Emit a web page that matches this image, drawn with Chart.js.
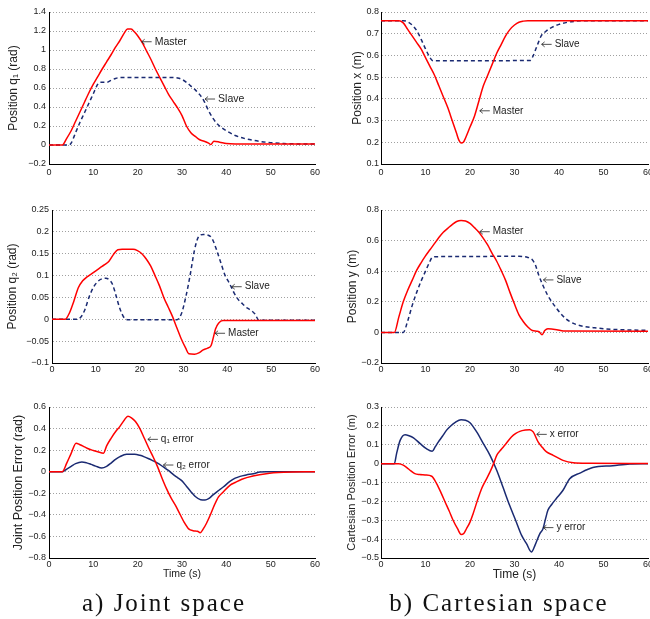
<!DOCTYPE html>
<html>
<head>
<meta charset="utf-8">
<script src="https://cdn.jsdelivr.net/npm/chart.js@4.4.0/dist/chart.umd.min.js"></script>
<style>
html, body { margin: 0; padding: 0; width: 650px; height: 619px; overflow: hidden; background: #fff; }
canvas { position: absolute; }
.caption { position: absolute; width: 240px; text-align: center; font-family: "Liberation Serif", serif; font-size: 25px; line-height: 25px; letter-spacing: 2px; color: #111; }
</style>
</head>
<body>
<canvas id="q1" style="left:0;top:0" width="330" height="190"></canvas>
<canvas id="px" style="left:330px;top:0" width="340" height="190"></canvas>
<canvas id="q2" style="left:0;top:195px" width="330" height="190"></canvas>
<canvas id="py" style="left:330px;top:195px" width="340" height="190"></canvas>
<canvas id="jerr" style="left:0;top:390px" width="330" height="200"></canvas>
<canvas id="cerr" style="left:330px;top:390px" width="340" height="200"></canvas>
<div class="caption" style="left:44px;top:590px">a) Joint space</div>
<div class="caption" style="left:379px;top:590px">b) Cartesian space</div>
<script>
// Datos (tiempo en s)

// q1 (rad)
const q1MasterT = [0, 3, 4, 5, 6, 7, 8, 9, 10, 11, 12, 13, 14, 15, 16, 17, 17.7, 18.5, 19.3, 20, 21, 22, 23, 24, 25, 26, 27, 28, 29, 30, 31, 32, 33, 34, 35, 36, 36.5, 37.2, 38.5, 40, 42, 60];
const q1MasterY = [0, 0, 0.07, 0.15, 0.25, 0.35, 0.45, 0.55, 0.64, 0.72, 0.80, 0.875, 0.95, 1.03, 1.10, 1.18, 1.22, 1.22, 1.19, 1.15, 1.08, 0.99, 0.90, 0.80, 0.71, 0.62, 0.53, 0.46, 0.39, 0.31, 0.20, 0.13, 0.09, 0.055, 0.04, 0.02, 0.005, 0.04, 0.03, 0.015, 0.01, 0.01];
const q1SlaveT = [0, 4.5, 5, 6, 7, 8, 9, 10, 11, 11.5, 13, 14, 15, 16, 28, 29, 30, 31, 32, 33, 34, 35, 36, 37, 38, 39, 40, 42, 44, 46, 48, 50, 53, 60];
const q1SlaveY = [0, 0, 0.02, 0.13, 0.24, 0.34, 0.44, 0.54, 0.64, 0.66, 0.66, 0.68, 0.70, 0.71, 0.71, 0.705, 0.69, 0.66, 0.62, 0.58, 0.53, 0.46, 0.36, 0.28, 0.22, 0.18, 0.15, 0.10, 0.07, 0.05, 0.035, 0.025, 0.015, 0.01];

// x (m)
const xMasterT = [0, 4, 5, 6, 7, 8, 9, 10, 11, 12, 13, 14, 15, 16, 17, 17.5, 18, 18.5, 19, 20, 21, 22, 23, 24, 25, 26, 27, 28, 29, 30, 31, 32, 33, 60];
const xMasterY = [0.76, 0.76, 0.75, 0.72, 0.69, 0.66, 0.63, 0.59, 0.55, 0.51, 0.46, 0.41, 0.36, 0.30, 0.24, 0.21, 0.197, 0.20, 0.22, 0.27, 0.32, 0.39, 0.46, 0.51, 0.56, 0.61, 0.65, 0.69, 0.72, 0.74, 0.753, 0.758, 0.76, 0.76];
const xSlaveT = [0, 5, 6, 7, 8, 9, 10, 11, 11.5, 12, 33.5, 34, 35, 36, 37, 38, 40, 42, 44, 46, 60];
const xSlaveY = [0.76, 0.76, 0.755, 0.74, 0.715, 0.675, 0.63, 0.59, 0.577, 0.575, 0.577, 0.59, 0.64, 0.69, 0.71, 0.725, 0.743, 0.753, 0.758, 0.76, 0.76];

// q2 (rad)
const q2MasterT = [0, 3, 4, 5, 6, 7, 8, 9, 10, 11, 12, 13, 14, 15, 16, 18.5, 19.5, 20.5, 21.5, 22.5, 23.5, 24.5, 25.5, 26.5, 27.5, 28.5, 29.5, 30.5, 31.2, 32.5, 33.5, 34.5, 35.5, 36.3, 36.8, 37.3, 38, 39, 60];
const q2MasterY = [0, 0, 0.015, 0.042, 0.072, 0.088, 0.097, 0.104, 0.111, 0.118, 0.125, 0.133, 0.148, 0.159, 0.16, 0.16, 0.157, 0.150, 0.138, 0.122, 0.10, 0.077, 0.050, 0.028, 0.006, -0.020, -0.045, -0.066, -0.079, -0.080, -0.077, -0.070, -0.066, -0.060, -0.042, -0.022, -0.009, -0.003, -0.003];
const q2SlaveT = [0, 5.5, 6.5, 7.5, 8.5, 9.5, 10.5, 11.5, 12.3, 13, 13.8, 14.5, 15.5, 16.5, 17.5, 28.5, 29.5, 30.5, 31.5, 32.5, 33.5, 34.5, 35.5, 36.5, 37.5, 38.5, 39.5, 40.5, 41.5, 42.5, 43.5, 44.5, 45.5, 46.3, 47.2, 60];
const q2SlaveY = [0, 0, 0.004, 0.022, 0.052, 0.074, 0.087, 0.093, 0.094, 0.091, 0.08, 0.058, 0.024, 0.003, -0.001, -0.001, 0.012, 0.05, 0.10, 0.158, 0.19, 0.194, 0.193, 0.185, 0.16, 0.13, 0.10, 0.082, 0.061, 0.045, 0.035, 0.026, 0.02, 0.012, -0.002, -0.002];

// y (m)
const yMasterT = [0, 3, 4, 5, 6, 7, 8, 9, 10, 11, 12, 13, 14, 15, 16, 17, 18, 19, 20, 21, 22, 23, 24, 25, 26, 27, 28, 29, 30, 31, 32, 33, 34, 35, 35.5, 36.2, 36.8, 37.5, 39.5, 41, 60];
const yMasterY = [0, 0, 0.10, 0.20, 0.275, 0.34, 0.405, 0.455, 0.50, 0.54, 0.58, 0.62, 0.655, 0.68, 0.705, 0.725, 0.732, 0.728, 0.712, 0.685, 0.655, 0.615, 0.57, 0.515, 0.465, 0.405, 0.34, 0.26, 0.185, 0.115, 0.07, 0.035, 0.012, 0.008, 0.005, -0.015, 0.012, 0.024, 0.018, 0.009, 0.008];
const ySlaveT = [0, 5, 6, 7, 8, 9, 10, 11, 11.5, 12.5, 31, 33, 34, 34.7, 35.5, 36.5, 37.5, 38.5, 39.5, 40.5, 41.5, 42.5, 44, 46, 48, 52, 60];
const ySlaveY = [0, 0, 0.075, 0.175, 0.26, 0.335, 0.40, 0.465, 0.49, 0.495, 0.497, 0.49, 0.475, 0.44, 0.37, 0.30, 0.24, 0.195, 0.155, 0.12, 0.09, 0.07, 0.05, 0.037, 0.03, 0.02, 0.013];

// errores articulares (rad)
const q1ErrT = [0, 3, 4, 5, 6.1, 7, 8, 9, 10, 11, 12.3, 13, 14, 15, 16, 17, 17.8, 18.6, 19.5, 20.5, 21.5, 22.5, 23.5, 24.5, 25.5, 26.5, 27.5, 28.5, 29.5, 30.5, 31.5, 32.5, 33.5, 34.1, 34.8, 35.5, 36.5, 37.3, 38.2, 39.3, 40.8, 42, 43.5, 46, 49, 53, 60];
const q1ErrY = [0, 0, 0.08, 0.17, 0.265, 0.25, 0.23, 0.21, 0.197, 0.185, 0.172, 0.24, 0.31, 0.37, 0.42, 0.48, 0.515, 0.50, 0.465, 0.40, 0.31, 0.22, 0.136, 0.045, -0.06, -0.157, -0.24, -0.31, -0.39, -0.47, -0.53, -0.547, -0.552, -0.565, -0.53, -0.48, -0.39, -0.31, -0.235, -0.188, -0.126, -0.10, -0.07, -0.04, -0.018, -0.006, 0];
const q2ErrT = [0, 3, 4, 5, 6, 7.4, 8.5, 9.5, 10.5, 11.9, 13, 14, 15, 16, 17.5, 19.3, 20.5, 21.5, 22.5, 23.5, 24.5, 25.8, 27, 28, 29, 30, 31, 32, 33, 34.2, 35.2, 36, 37, 38, 39.3, 40.8, 42, 43.1, 44.5, 46.1, 47.6, 49, 60];
const q2ErrY = [0, 0, 0.025, 0.05, 0.075, 0.09, 0.082, 0.068, 0.052, 0.034, 0.05, 0.08, 0.115, 0.14, 0.161, 0.161, 0.152, 0.138, 0.12, 0.10, 0.08, 0.044, 0.01, -0.025, -0.055, -0.085, -0.135, -0.185, -0.23, -0.26, -0.262, -0.25, -0.215, -0.182, -0.142, -0.09, -0.06, -0.043, -0.03, -0.018, -0.003, 0, 0];

// errores cartesianos (m)
const xErrT = [0, 4, 5, 5.8, 6.7, 7.6, 8.7, 9.9, 11.4, 12.5, 13.5, 14.4, 15.3, 16.2, 17.2, 18, 18.6, 19.2, 20, 20.7, 21.6, 22.6, 23.5, 24.5, 25.3, 26, 27, 27.8, 29.3, 30.3, 31.2, 32.5, 33.4, 34.2, 35.3, 36.3, 37.2, 38.7, 40, 40.9, 43.2, 47, 60];
const xErrY = [0, 0, -0.008, -0.021, -0.038, -0.053, -0.058, -0.06, -0.067, -0.106, -0.155, -0.203, -0.25, -0.30, -0.345, -0.375, -0.37, -0.345, -0.31, -0.265, -0.2, -0.133, -0.09, -0.044, 0.0, 0.044, 0.075, 0.097, 0.141, 0.16, 0.171, 0.178, 0.18, 0.168, 0.115, 0.085, 0.062, 0.044, 0.028, 0.017, 0.005, 0.002, 0];
const yErrT = [0, 3, 3.5, 4.3, 5.4, 6.3, 7.3, 8.8, 10.2, 11.5, 12.2, 12.9, 13.8, 14.7, 15.6, 16.6, 18, 19, 20, 21.5, 23, 24.5, 26, 27.4, 28.9, 30.4, 31.6, 32.7, 33.8, 34.6, 35.7, 36.4, 37, 37.5, 38.4, 39.4, 40.9, 42.4, 44.7, 47.6, 52.1, 55.9, 60];
const yErrY = [0, 0, 0.053, 0.123, 0.153, 0.148, 0.137, 0.106, 0.079, 0.065, 0.09, 0.115, 0.145, 0.176, 0.198, 0.217, 0.233, 0.23, 0.217, 0.168, 0.106, 0.044, -0.035, -0.124, -0.221, -0.309, -0.38, -0.424, -0.468, -0.433, -0.371, -0.345, -0.29, -0.247, -0.215, -0.185, -0.141, -0.08, -0.05, -0.021, -0.011, -0.002, 0];

const RED = '#ff0000';
const BLUE = '#1a2a72';

Chart.defaults.font.family = '"Liberation Sans", Arial, sans-serif';
Chart.defaults.color = '#222';

// textos con flecha (\leftarrow) colocados en coordenadas de datos
const notesPlugin = {
    id: 'notes',
    afterDatasetsDraw(chart, args, opts) {
        const { ctx, scales: { x, y } } = chart;
        ctx.save();
        ctx.font = opts.font;
        ctx.fillStyle = '#222';
        ctx.strokeStyle = '#222';
        ctx.lineWidth = 0.8;
        ctx.textAlign = 'left';
        ctx.textBaseline = 'middle';
        (opts.items || []).forEach(n => {
            const px = x.getPixelForValue(n.x);
            const py = y.getPixelForValue(n.y);
            ctx.beginPath();
            ctx.moveTo(px, py);
            ctx.lineTo(px + 10, py);
            ctx.moveTo(px + 3, py - 2.5);
            ctx.lineTo(px, py);
            ctx.lineTo(px + 3, py + 2.5);
            ctx.stroke();
            ctx.fillText(n.text, px + 13, py);
        });
        ctx.restore();
    }
};

function line(t, v, color, dash) {
    return {
        data: t.map((tt, i) => ({ x: tt, y: v[i] })),
        borderColor: color,
        borderDash: dash || [],
        borderWidth: 1.5,
        pointRadius: 0,
        fill: false,
        cubicInterpolationMode: 'monotone'
    };
}

function plot(id, cfg) {
    new Chart(document.getElementById(id), {
        type: 'line',
        data: { datasets: cfg.lines },
        plugins: [notesPlugin],
        options: {
            responsive: false,
            animation: false,
            layout: { padding: cfg.pad },
            plugins: {
                legend: { display: false },
                tooltip: { enabled: false },
                notes: { items: cfg.notes, font: cfg.noteFont || '10px "Liberation Sans", Arial, sans-serif' }
            },
            scales: {
                x: {
                    type: 'linear',
                    min: 0,
                    max: 60,
                    afterFit: s => { s.height = cfg.xh; },
                    grid: { display: false, drawTicks: false },
                    border: { color: '#000', width: 1 },
                    ticks: { stepSize: 10, padding: cfg.xtp, font: { size: 9 }, maxRotation: 0 },
                    title: {
                        display: !!cfg.time,
                        text: 'Time (s)',
                        font: { size: cfg.time ? cfg.time.size : 11 },
                        padding: { top: 0, bottom: cfg.time ? cfg.time.pad : 0 }
                    }
                },
                y: {
                    min: cfg.ymin,
                    max: cfg.ymax,
                    afterFit: s => { s.width = cfg.yw; },
                    grid: { color: '#a0a0a0', drawTicks: false },
                    border: { color: '#000', width: 1, dash: [1, 2] },
                    ticks: {
                        stepSize: cfg.ystep,
                        padding: cfg.ytp,
                        font: { size: 9 },
                        callback: v => (Math.round(v * 100) / 100).toString().replace('-', '\u2212')
                    },
                    title: {
                        display: true,
                        text: cfg.ytitle,
                        font: { size: cfg.ysize },
                        padding: { top: cfg.ypad, bottom: 0 }
                    }
                }
            }
        }
    });
}

// 1. Posición q1
plot('q1', {
    lines: [line(q1MasterT, q1MasterY, RED), line(q1SlaveT, q1SlaveY, BLUE, [4, 3])],
    ymin: -0.2, ymax: 1.4, ystep: 0.2,
    ytitle: 'Position q\u2081 (rad)', ysize: 12, ypad: 6,
    yw: 49, xh: 20, xtp: 3.5, ytp: 3,
    pad: { top: 12, right: 15, bottom: 6, left: 0 },
    noteFont: '10.5px "Liberation Sans", Arial, sans-serif',
    notes: [{ x: 20.9, y: 1.087, text: 'Master' }, { x: 35.2, y: 0.484, text: 'Slave' }]
});

// 2. Posición x
plot('px', {
    lines: [line(xMasterT, xMasterY, RED), line(xSlaveT, xSlaveY, BLUE, [4, 3])],
    ymin: 0.1, ymax: 0.8, ystep: 0.1,
    ytitle: 'Position x (m)', ysize: 12, ypad: 20.5,
    yw: 51, xh: 20, xtp: 3.5, ytp: 2,
    pad: { top: 12, right: 22, bottom: 6, left: 0 },
    notes: [{ x: 36.1, y: 0.651, text: 'Slave' }, { x: 22.2, y: 0.345, text: 'Master' }]
});

// 3. Posición q2
plot('q2', {
    lines: [line(q2MasterT, q2MasterY, RED), line(q2SlaveT, q2SlaveY, BLUE, [4, 3])],
    ymin: -0.1, ymax: 0.25, ystep: 0.05,
    ytitle: 'Position q\u2082 (rad)', ysize: 12, ypad: 5.3,
    yw: 52, xh: 20, xtp: 1, ytp: 3,
    pad: { top: 15, right: 15, bottom: 2, left: 0 },
    notes: [{ x: 41.0, y: 0.0745, text: 'Slave' }, { x: 37.2, y: -0.032, text: 'Master' }]
});

// 4. Posición y
plot('py', {
    lines: [line(yMasterT, yMasterY, RED), line(ySlaveT, ySlaveY, BLUE, [4, 3])],
    ymin: -0.2, ymax: 0.8, ystep: 0.2,
    ytitle: 'Position y (m)', ysize: 12, ypad: 15.3,
    yw: 51, xh: 20, xtp: 1, ytp: 2,
    pad: { top: 15, right: 22, bottom: 2, left: 0 },
    notes: [{ x: 22.2, y: 0.658, text: 'Master' }, { x: 36.5, y: 0.343, text: 'Slave' }]
});

// 5. Error articular
plot('jerr', {
    lines: [line(q1ErrT, q1ErrY, RED), line(q2ErrT, q2ErrY, BLUE)],
    ymin: -0.8, ymax: 0.6, ystep: 0.2,
    ytitle: 'Joint Position Error (rad)', ysize: 12.5, ypad: 10.8,
    yw: 49, xh: 30, xtp: 1, ytp: 3,
    time: { size: 10.5, pad: 7.7 },
    pad: { top: 17, right: 15, bottom: 2, left: 0 },
    notes: [{ x: 22.3, y: 0.30, text: 'q\u2081 error' }, { x: 25.8, y: 0.062, text: 'q\u2082 error' }]
});

// 6. Error cartesiano
plot('cerr', {
    lines: [line(xErrT, xErrY, RED), line(yErrT, yErrY, BLUE)],
    ymin: -0.5, ymax: 0.3, ystep: 0.1,
    ytitle: 'Cartesian Position Error (m)', ysize: 11, ypad: 15,
    yw: 51, xh: 30, xtp: 1, ytp: 2,
    time: { size: 12, pad: 5.8 },
    pad: { top: 17, right: 22, bottom: 2, left: 0 },
    notes: [{ x: 35.0, y: 0.155, text: 'x error' }, { x: 36.5, y: -0.339, text: 'y error' }]
});
</script>
</body>
</html>
